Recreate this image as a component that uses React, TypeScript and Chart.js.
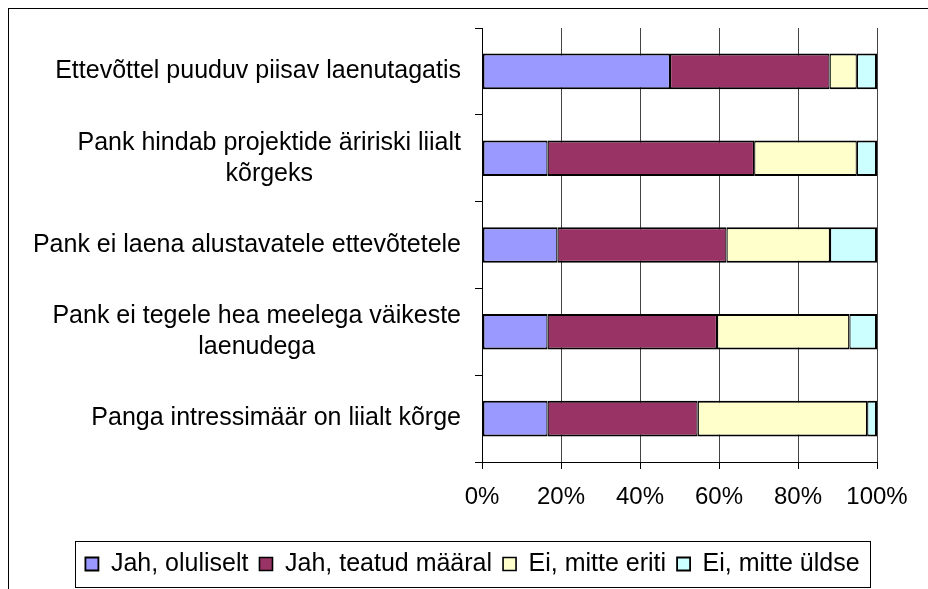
import React, { useEffect, useRef } from 'react';
import { Chart, registerables } from 'chart.js';

Chart.register(...registerables);

const FONT = '"Liberation Sans", Arial, sans-serif';

const categories: string[][] = [
  ['Ettevõttel puuduv piisav laenutagatis'],
  ['Pank hindab projektide äririski liialt', 'kõrgeks'],
  ['Pank ei laena alustavatele ettevõtetele'],
  ['Pank ei tegele hea meelega väikeste', 'laenudega'],
  ['Panga intressimäär on liialt kõrge'],
];

const seriesNames = ['Jah, oluliselt', 'Jah, teatud määral', 'Ei, mitte eriti', 'Ei, mitte üldse'];

const jahOluliselt = [47.6, 16.6, 19.1, 16.6, 16.6];
const jahTeatudMaaral = [40.4, 52.3, 42.8, 42.9, 38.0];
const eiMitteEriti = [6.9, 26.0, 26.2, 33.5, 42.9];
const eiMitteUldse = [5.1, 5.1, 11.9, 7.0, 2.5];

const xTickValues = [0, 20, 40, 60, 80, 100];

const seriesColors = ['#9999FF', '#993366', '#FFFFCC', '#CCFFFF'];

const yLabelPlugin = {
  id: 'yLabelsCustom',
  afterDraw(chart: any) {
    const ctx = chart.ctx;
    const ys = chart.scales.y;
    ctx.save();
    ctx.font = `25px ${FONT}`;
    ctx.fillStyle = '#000';
    ctx.textAlign = 'center';
    ctx.textBaseline = 'middle';
    const lineH = 31;
    (chart.data.labels as string[][]).forEach((lines, i) => {
      const yc = ys.getPixelForValue(i);
      const w = Math.max(...lines.map((l) => ctx.measureText(l).width));
      const cx = ys.right - 21 - w / 2;
      lines.forEach((l, j) => {
        ctx.fillText(l, cx, yc + (j - (lines.length - 1) / 2) * lineH);
      });
    });
    ctx.restore();
  },
};

const legendBoxPlugin = {
  id: 'legendBox',
  afterDraw(chart: any) {
    const lg = chart.legend;
    if (!lg || !lg.legendHitBoxes || !lg.legendHitBoxes.length) return;
    const hb = lg.legendHitBoxes;
    const left = Math.min(...hb.map((h: any) => h.left)) - 10;
    const right = Math.max(...hb.map((h: any) => h.left + h.width)) + 11;
    const top = hb[0].top - 10.5;
    const bottom = hb[0].top + hb[0].height + 10.5;
    const ctx = chart.ctx;
    ctx.save();
    ctx.strokeStyle = '#000';
    ctx.lineWidth = 1;
    ctx.strokeRect(Math.round(left) + 0.5, Math.round(top) + 0.5, Math.round(right - left), Math.round(bottom - top));
    ctx.restore();
  },
};

export default function App() {
  const ref = useRef<HTMLCanvasElement>(null);

  useEffect(() => {
    document.documentElement.style.overflow = 'hidden';
    document.body.style.marginBottom = '0px';
    document.body.style.marginRight = '0px';
    if (!ref.current) return;
    const seriesData = [jahOluliselt, jahTeatudMaaral, eiMitteEriti, eiMitteUldse];
    const n = seriesNames.length;
    const chart = new Chart(ref.current, {
      type: 'bar',
      data: {
        labels: categories as any,
        datasets: seriesNames.map((name, k) => ({
          label: name,
          data: seriesData[k],
          backgroundColor: seriesColors[k],
          borderColor: '#000',
          borderWidth: { top: 2, bottom: 2, left: k === 0 ? 2 : 1.25, right: k === n - 1 ? 2 : 1.25 },
          borderSkipped: false,
          inflateAmount: 0,
          barPercentage: 0.41,
          categoryPercentage: 1,
        })),
      },
      options: {
        indexAxis: 'y',
        responsive: false,
        animation: false,
        devicePixelRatio: 1,
        layout: { padding: { top: 19, left: 59, right: 50, bottom: 2.5 } },
        scales: {
          x: {
            stacked: true,
            min: 0,
            max: 100,
            afterBuildTicks: (scale: any) => {
              scale.ticks = xTickValues.map((v) => ({ value: v }));
            },
            afterFit: (scale: any) => {
              scale.height = 78.5;
            },
            ticks: {
              color: '#000',
              font: { family: FONT, size: 24 },
              padding: 14,
              callback: (v: any) => v + '%',
              maxRotation: 0,
            },
            grid: {
              color: '#444',
              lineWidth: 1,
              drawTicks: true,
              tickLength: 7,
              tickColor: '#000',
            },
            border: { display: true, color: '#000', width: 1 },
          },
          y: {
            stacked: true,
            afterFit: (scale: any) => {
              scale.width = 414;
            },
            ticks: { display: false },
            grid: {
              display: true,
              drawOnChartArea: false,
              drawTicks: true,
              tickLength: 7,
              color: '#000',
              offset: true,
            },
            border: { display: true, color: '#000', width: 1 },
          },
        },
        plugins: {
          title: { display: false },
          tooltip: { enabled: false },
          legend: {
            display: true,
            position: 'bottom',
            labels: {
              boxWidth: 13,
              boxHeight: 13,
              padding: 11,
              color: '#000',
              font: { family: FONT, size: 25 },
            },
          },
        },
      },
      plugins: [yLabelPlugin, legendBoxPlugin],
    } as any);
    return () => chart.destroy();
  }, []);

  return (
    <div
      style={{
        width: 920,
        height: 581,
        borderTop: '1px solid #000',
        borderLeft: '1px solid #000',
        boxSizing: 'border-box',
        overflow: 'hidden',
        background: '#fff',
      }}
    >
      <canvas ref={ref} width={918} height={580} style={{ display: 'block', width: 918, height: 580 }} />
    </div>
  );
}
